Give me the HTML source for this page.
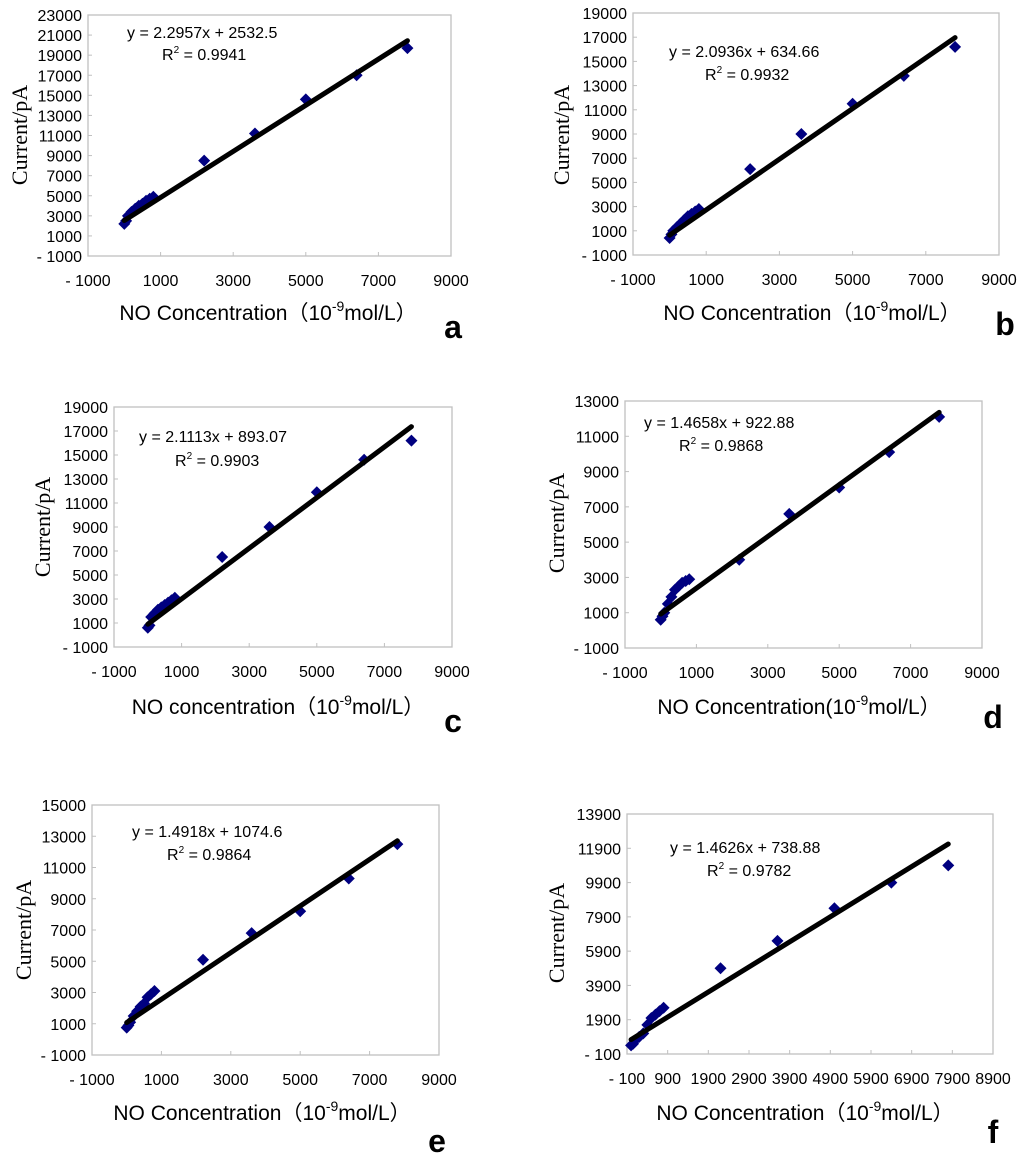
<!DOCTYPE html>
<html><head><meta charset="utf-8">
<style>
html,body{margin:0;padding:0;background:#fff;}
svg{display:block;}
text{font-family:"Liberation Sans","Noto Sans CJK SC",sans-serif;}
</style></head>
<body>
<svg id="fig" width="1024" height="1161" viewBox="0 0 1024 1161"></svg>
<script>
// ---- data ----
const concentrations = [0,50,100,200,300,400,500,600,700,800,2200,3600,5000,6400,7800];
const currentA = [2200,2500,3000,3400,3700,4000,4200,4500,4700,4900,8500,11200,14600,17000,19700];
const currentB = [400,700,1000,1300,1600,1900,2200,2400,2600,2800,6100,9000,11500,13800,16200];
const currentC = [600,800,1500,1800,2100,2300,2500,2700,2900,3100,6500,9000,11900,14600,16200];
const currentD = [600,800,1000,1500,1900,2300,2500,2700,2800,2900,4000,6600,8100,10100,12100];
const currentE = [750,900,1100,1500,1800,2100,2300,2700,2900,3100,5100,6800,8200,10300,12500];
const currentF = [400,500,700,900,1100,1600,2000,2200,2400,2600,4900,6500,8400,9900,10900];
const slopes = [2.2957,2.0936,2.1113,1.4658,1.4918,1.4626];
const intercepts = [2532.5,634.66,893.07,922.88,1074.6,738.88];
const equationLabels = ["y = 2.2957x + 2532.5","y = 2.0936x + 634.66","y = 2.1113x + 893.07","y = 1.4658x + 922.88","y = 1.4918x + 1074.6","y = 1.4626x + 738.88"];
const r2Labels = ["0.9941","0.9932","0.9903","0.9868","0.9864","0.9782"];
const yRangesMin = [-1000,-1000,-1000,-1000,-1000,-100];
const yRangesMax = [23000,19000,19000,13000,15000,13900];
const xRangesMin = [-1000,-1000,-1000,-1000,-1000,-100];
const xRangesMax = [9000,9000,9000,9000,9000,8900];
const xSteps = [2000,2000,2000,2000,2000,1000];
const ySteps = [2000,2000,2000,2000,2000,2000];
const xTitlePrefix = ["NO Concentration（10","NO Concentration（10","NO concentration（10","NO Concentration(10","NO Concentration（10","NO Concentration（10"];
const panelLetters = ["a","b","c","d","e","f"];
const series = [currentA,currentB,currentC,currentD,currentE,currentF];

// ---- layout ----
const layout = [
 {L:88,R:451,T:15,B:256, eq:[127,38], r2:[162,60], xt:[268,320], yt:[20,135], lt:[453,338]},
 {L:633,R:999,T:13,B:255, eq:[669,57], r2:[705,80], xt:[812,320], yt:[562,135], lt:[1005,335]},
 {L:114,R:452,T:407,B:647, eq:[139,442], r2:[175,466], xt:[278,714], yt:[43,527], lt:[453,732]},
 {L:625,R:982,T:401,B:648, eq:[644,428], r2:[679,451], xt:[799,714], yt:[557,523], lt:[993,728]},
 {L:92,R:439,T:805,B:1055, eq:[132,837], r2:[167,860], xt:[262,1120], yt:[24,930], lt:[437,1152]},
 {L:627,R:993,T:814,B:1054, eq:[670,853], r2:[707,876], xt:[805,1120], yt:[557,933], lt:[993,1143]}
];
const NS="http://www.w3.org/2000/svg";
const svg=document.getElementById('fig');
function mk(tag,attrs,parent,txt){const e=document.createElementNS(NS,tag);for(const k in attrs)e.setAttribute(k,attrs[k]);if(txt!==undefined)e.textContent=txt;(parent||svg).appendChild(e);return e;}

series.forEach((vals,p)=>{
  const c=layout[p];
  const g=mk('g',{});
  
  
  const xs=v=>c.L+(v-xRangesMin[p])/(xRangesMax[p]-xRangesMin[p])*(c.R-c.L);
  const ys=v=>c.B-(v-yRangesMin[p])/(yRangesMax[p]-yRangesMin[p])*(c.B-c.T);
  const frame=mk('rect',{x:c.L,y:c.T,width:c.R-c.L,height:c.B-c.T,fill:'none',stroke:'#c0c0c0','stroke-width':1.3},g);
  
  
  for(let v=yRangesMin[p];v<=yRangesMax[p]+1;v+=ySteps[p]){
    const y=ys(v);
    mk('line',{x1:c.L,x2:c.L+4,y1:y,y2:y,stroke:'#c0c0c0','stroke-width':1},g);
    const t=mk('text',{x:c.L-6,y:y+6,'font-size':16,'text-anchor':'end',fill:'#000'},g,(v<0?'- '+(-v):String(v)));
    
    
  }
  for(let v=xRangesMin[p];v<=xRangesMax[p]+1;v+=xSteps[p]){
    const x=xs(v);
    mk('line',{x1:x,x2:x,y1:c.B,y2:c.B-4,stroke:'#c0c0c0','stroke-width':1},g);
    const t=mk('text',{x:x,y:c.B+30,'font-size':16,'text-anchor':'middle',fill:'#000'},g,(v<0?'- '+(-v):String(v)));
    
    
  }
  vals.forEach((v,i)=>{
    const x=xs(concentrations[i]),y=ys(v),s=6;
    const d=mk('path',{d:`M${x} ${y-s}L${x+s} ${y}L${x} ${y+s}L${x-s} ${y}Z`,fill:'#000080'},g);
    
    
  });
  const x0=concentrations[0],x1=concentrations[concentrations.length-1];
  const ln=mk('line',{x1:xs(x0),y1:ys(slopes[p]*x0+intercepts[p]),x2:xs(x1),y2:ys(slopes[p]*x1+intercepts[p]),stroke:'#000','stroke-width':5,'stroke-linecap':'round'},g);
  
  
  const eq=mk('text',{x:c.eq[0],y:c.eq[1],'font-size':16,fill:'#000'},g,equationLabels[p]);
  
  
  const r2=mk('text',{x:c.r2[0],y:c.r2[1],'font-size':16,fill:'#000'},g);
  
  
  mk('tspan',{},r2,'R');
  mk('tspan',{dy:-7,'font-size':10},r2,'2');
  mk('tspan',{dy:7},r2,'  = '+r2Labels[p]);
  const yt=mk('text',{x:c.yt[0],y:c.yt[1],'font-size':22,'text-anchor':'middle',transform:`rotate(-90 ${c.yt[0]} ${c.yt[1]})`,style:'font-family:"Liberation Serif",serif',fill:'#000',dy:7},g,'Current/pA');
  
  
  const xt=mk('text',{x:c.xt[0],y:c.xt[1],'font-size':21,'text-anchor':'middle',fill:'#000'},g);
  
  
  mk('tspan',{},xt,xTitlePrefix[p]);
  mk('tspan',{dy:-9,'font-size':14},xt,'-9');
  mk('tspan',{dy:9},xt,'mol/L）');
  const lt=mk('text',{x:c.lt[0],y:c.lt[1],'font-size':32,'font-weight':'bold','text-anchor':'middle',fill:'#000'},g,panelLetters[p]);
  
  
});
</script>
</body></html>
